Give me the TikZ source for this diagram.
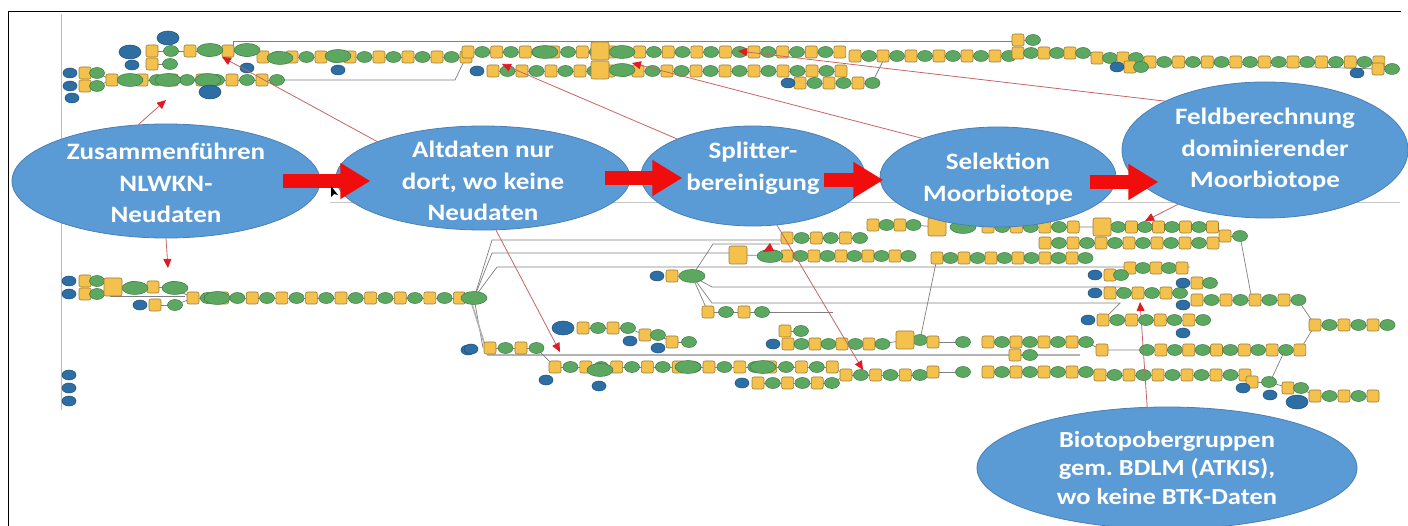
\documentclass[tikz,border=0pt]{standalone}
\usepackage{fontspec}
\newfontfamily\calib[FakeStretch=1.15]{Carlito}
\usepackage{tikz}
\usetikzlibrary{positioning}
\usetikzlibrary{shapes.geometric}
\usetikzlibrary{arrows.meta}
\frenchspacing

\definecolor{procblue}{HTML}{5B9BD5}
\definecolor{procedge}{HTML}{4A7FB5}
\definecolor{arrowred}{HTML}{F20D0D}
\definecolor{linered}{HTML}{C86464}
\definecolor{tipred}{HTML}{E01B24}
\definecolor{wfgray}{HTML}{7F7F7F}
\definecolor{wfyellow}{HTML}{F4C24C}
\definecolor{wfyellowdk}{HTML}{9C7A36}
\definecolor{wfgreen}{HTML}{5DA860}
\definecolor{wfgreendk}{HTML}{3E7846}
\definecolor{wfblue}{HTML}{2D6FA5}
\definecolor{wfbluedk}{HTML}{1F4E79}

% one chain of the model: tools and data alternate
\newcommand{\wfrow}[5]{%
  \draw[wfline] (#1,#2) -- ({#1+(#3-1)*#4},#2);
  \foreach \i in {1,...,#3}{%
    \pgfmathtruncatemacro{\wfodd}{mod(\i+#5,2)}%
    \ifnum\wfodd=1
      \draw[wftool] ({#1+(\i-1)*#4-6},{#2-6}) rectangle ++(12,12);
    \else
      \draw[wfdata] ({#1+(\i-1)*#4},#2) ellipse [x radius=7.5,y radius=5.5];
    \fi}}

\begin{document}
\begin{tikzpicture}[x=1pt,y=-1pt,
  proc/.style={ellipse, fill=procblue, draw=procedge, line width=0.8pt, inner sep=0pt},
  proctext/.style={text=white, align=center, font=\calib\bfseries\fontsize{23.5}{31.5}\selectfont},
  fatarrow/.style={draw=arrowred, line width=14pt, -{Triangle[length=30pt,width=34pt]}},
  pointer/.style={draw=linered, line width=0.8pt, -{Triangle[length=9pt,width=8pt,color=tipred]}},
  wfline/.style={draw=wfgray, line width=0.7pt},
  wftool/.style={fill=wfyellow, draw=wfyellowdk, line width=0.6pt, rounded corners=2pt},
  wfdata/.style={fill=wfgreen, draw=wfgreendk, line width=0.5pt},
  wfinput/.style={fill=wfblue, draw=wfbluedk, line width=0.5pt}]
\useasboundingbox (0,0) rectangle (1408,526);

% frame of the screenshot
\draw[black, line width=1pt] (8,526) -- (8,12) -- (1401,12);
\draw[gray!55, line width=1pt] (61,14) -- (61,410);
\draw[gray!45, line width=0.8pt] (330,202) -- (1400,202);

% connections of the model
\draw[wfline] (233,50) -- (233,41) -- (1013,41);
\draw[wfline] (280,80) -- (455,80) -- (466,57) -- (468,52);
\draw[wfline] (97,73) -- (112,80) (97,86) -- (112,80);
\draw[wfline] (872,83) -- (885,57);
\draw[wfline] (1009,56) -- (1018,53) (1083,53) -- (1097,58) (1136,58) -- (1150,62) -- (1378,69);
\draw[wfline] (97,281) -- (113,287) (97,294) -- (113,287) (173,288) -- (193,298) (175,305) -- (193,298);
\draw[wfline] (110,296) -- (185,296);
\draw[wfline] (474,298) -- (492,240) -- (787,240);
\draw[wfline] (474,298) -- (492,253) -- (729,253);
\draw[wfline] (474,298) -- (497,267) -- (1190,267);
\draw[wfline] (474,298) -- (483,348);
\draw[gray!60, line width=1.6pt] (470,298) -- (488,355) -- (1080,355);
\draw[wfline] (692,276) -- (712,287) -- (1120,287) -- (1133,293);
\draw[wfline] (692,276) -- (712,303) -- (1120,303) -- (1103,320);
\draw[wfline] (692,276) -- (713,244) -- (780,244);
\draw[wfline] (692,276) -- (708,312);
\draw[wfline] (762,312) -- (833,312);
\draw[wfline] (738,255) -- (787,256) (913,225) -- (937,227) (1073,227) -- (1102,227);
\draw[wfline] (882,344) -- (905,340) (920,340) -- (937,258);
\draw[wfline] (1240,236) -- (1252,300) (1213,243) -- (1225,236);
\draw[wfline] (1298,300) -- (1315,325) (1300,350) -- (1315,325);
\draw[wfline] (1245,375) -- (1252,382) (1270,382) -- (1288,388) (1300,388) -- (1315,396) (1270,382) -- (1285,350);
\draw[wfline] (1086,342) -- (1102,350) -- (1147,350);
\draw[wfline] (832,367) -- (846,375) (832,383) -- (846,375) (920,372) -- (933,372);
\draw[wfline] (628,328) -- (645,335) (658,335) -- (672,342) (536,348) -- (555,367);

% chains of the model
\foreach \x/\y/\n/\d/\p in {152/51/6/19/0, 152/64/2/18/0, 263/57/15/14.5/0, 85/73/2/12/0,
    85/86/2/12/0, 112/80/12/15/0, 468/52/27/14.3/0, 855/56/12/14/0, 1018/40/2/15/0,
    1018/53/6/13/0, 1097/58/4/13/0, 1150/62/17/14.3/0, 1378/69/2/14/0, 1130/67/2/11/0,
    493/71/25/14.5/0, 800/83/6/14.5/0,
    85/281/2/12/0, 85/294/2/12/0, 113/287/4/20/0, 155/305/2/20/0, 193/298/20/14.8/0,
    787/238/6/14.6/0, 787/256/10/13.5/0, 937/258/12/13.5/0, 873/225/4/13.5/0,
    988/227/7/14.2/0, 1118/227/8/13.5/1, 1225/236/2/15/0, 1045/243/13/14/0,
    1130/268/5/13/0, 672/276/2/20/0, 708/312/4/18/0, 785/331/2/16/0, 788/344/8/13.5/0,
    920/340/1/10/1, 583/328/4/15/0, 645/335/2/13/0, 672/342/2/17/0, 490/348/4/15.5/0,
    555/367/19/15.4/0, 758/383/6/14.8/0, 846/375/6/14.8/0,
    1110/275/2/11/0, 1197/283/2/13/0, 1110/293/6/14/0, 1197/300/8/14.5/0,
    1103/320/8/14.3/0, 1315/325/6/14.5/0, 933/342/2/30/0, 988/342/8/14/0,
    1102/350/1/10/0, 1147/350/12/13.9/1, 1015/355/2/15/0, 933/372/2/30/0,
    988/372/8/14/0, 1100/375/11/14.5/0, 1252/382/2/17/0, 1288/388/2/13/0,
    1315/396/5/14.5/0}
  {\wfrow{\x}{\y}{\n}{\d}{\p}}

% wide data and large tools
\foreach \x/\y in {130/80, 168/80, 208/80, 280/58, 338/56, 210/50, 247/50, 545/52,
    622/52, 622/70, 135/288, 175/288, 217/298, 474/298, 692/276, 770/256, 963/227,
    600/370, 688/367, 763/367}
  {\draw[wfdata] (\x,\y) ellipse [x radius=13,y radius=6.5];}
\foreach \x/\y in {600/51, 600/70, 738/255, 905/340, 937/227, 1102/227, 113/287}
  {\draw[wftool] (\x-9,\y-9) rectangle ++(18,18);}

% inputs
\foreach \x/\y in {132/65, 70/73, 70/86, 72/98, 247/68, 338/70, 477/71, 788/83,
    1117/67, 1357/73, 69/281, 69/294, 140/305, 468/350, 69/375, 69/388, 69/401,
    657/276, 773/344, 630/341, 658/348, 471/349, 546/380, 599/386, 742/383,
    1095/275, 1183/283, 1095/293, 1183/305, 1088/320, 1183/333, 1243/388, 1270/395}
  {\draw[wfinput] (\x,\y) ellipse [x radius=7,y radius=5];}
\foreach \x/\y in {168/38, 130/52, 210/92, 563/328, 1297/402}
  {\draw[wfinput] (\x,\y) ellipse [x radius=11,y radius=7];}

\fill[tipred] (763,252) -- (774,251) -- (770,243) -- cycle;

% steps
\node[proc, minimum width=308, minimum height=114] (e1) at (166,181) {};
\node[proc, minimum width=294, minimum height=104] (e2) at (483,178) {};
\node[proc, minimum width=224, minimum height=100] (e3) at (753,176) {};
\node[proc, minimum width=236, minimum height=100] (e4) at (998,177) {};
\node[proc, minimum width=286, minimum height=136] (e5) at (1265,150) {};
\node[proc, minimum width=380, minimum height=122] (e6) at (1167,468) {};

\node[proctext] (e1t) at ([yshift=-2pt]e1) {Zusammenführen\\NLWKN-\\Neudaten};
\node[proctext] (e2t) at ([yshift=-3pt]e2) {Altdaten nur\\dort, wo keine\\Neudaten};
\node[proctext] (e3t) at ([yshift=8pt]e3) {Splitter-\\bereinigung};
\node[proctext] (e4t) at ([yshift=-2pt]e4) {Selektion\\Moorbiotope};
\node[proctext] (e5t) at (e5) {Feldberechnung\\dominierender\\Moorbiotope};
\node[proctext, font=\calib\bfseries\fontsize{23}{28.5}\selectfont] (e6t) at (e6) {Biotopobergruppen\\gem. BDLM (ATKIS),\\wo keine BTK-Daten};

% where each step sits in the model
\coordinate (t1) at (166,100);
\coordinate (t2) at (168,268);
\coordinate (t3) at (222,57);
\coordinate (t4) at (560,352);
\coordinate (t5) at (502,64);
\coordinate (t6) at (863,370);
\coordinate (t7) at (632,63);
\coordinate (t8) at (738,51);
\coordinate (t9) at (1145,221);
\coordinate (t10) at (1140,302);
\draw[pointer] (e1.116) -- (t1);
\draw[pointer] (e1.south) -- (t2);
\draw[pointer] (e2.161) -- (t3);
\draw[pointer] (e2.-76) -- (t4);
\draw[pointer] (e3.154) -- (t5);
\draw[pointer] (e3.-64) -- (t6);
\draw[pointer] (e4.153) -- (t7);
\draw[pointer] (e5.154) -- (t8);
\draw[pointer] (e5.212) -- (t9);
\draw[pointer] (e6.108) -- (t10);

% order of the steps
\draw[fatarrow] ([xshift=-37pt]e1.east) -- ++(87,0);
\draw[fatarrow] ([xshift=-25pt]e2.east) -- ++(77,0);
\draw[fatarrow] ([xshift=-41pt,yshift=-4pt]e3.east) -- ++(59,0);
\draw[fatarrow] ([xshift=-26pt,yshift=-5pt]e4.east) -- ++(68,0);

% mouse pointer
\fill[black] (331,186) -- (331,197) -- (334,194) -- (338,195) -- cycle;
\end{tikzpicture}
\end{document}
